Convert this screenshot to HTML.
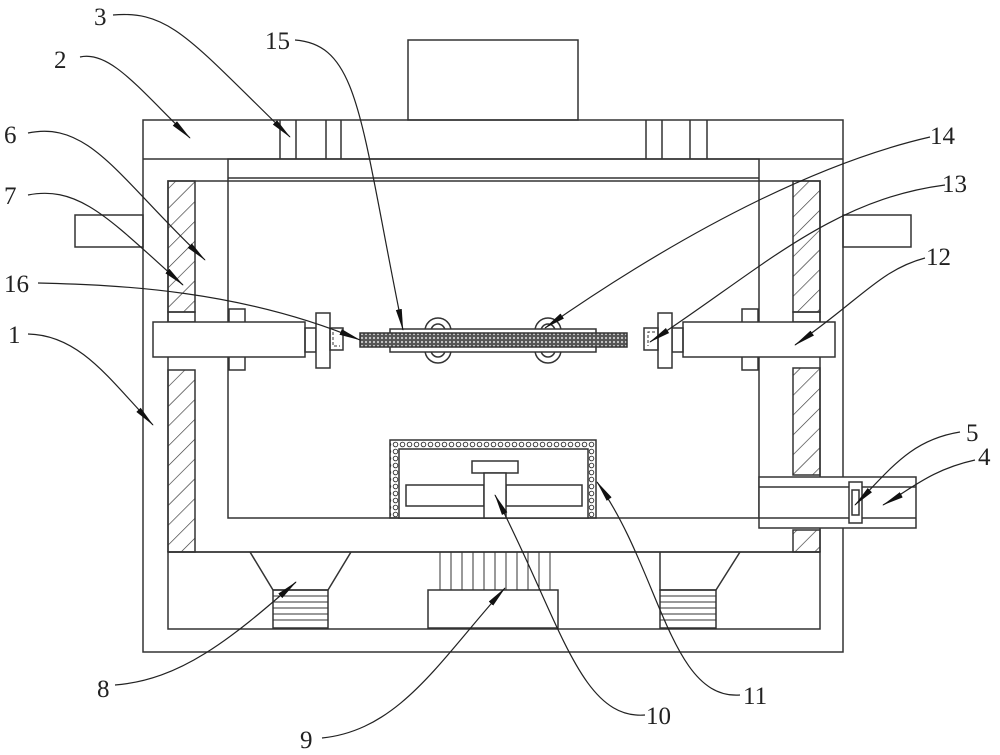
<!DOCTYPE html>
<html><head><meta charset="utf-8"><style>
html,body{margin:0;padding:0;background:#fff}
svg{display:block}
text{font-family:"Liberation Serif",serif;font-size:25px;fill:#222}
</style></head><body>
<svg width="1000" height="755" viewBox="0 0 1000 755" xmlns="http://www.w3.org/2000/svg">
<defs>
<pattern id="h" patternUnits="userSpaceOnUse" width="14" height="14" patternTransform="rotate(45)">
<line x1="0" y1="0" x2="0" y2="14" stroke="#333" stroke-width="1.3"/>
</pattern>
<pattern id="m" patternUnits="userSpaceOnUse" width="4" height="4">
<rect width="4" height="4" fill="#555"/><circle cx="2" cy="2" r="1.1" fill="#ccc"/>
</pattern>
<pattern id="d" patternUnits="userSpaceOnUse" width="7" height="7">
<circle cx="3.5" cy="3.5" r="2.3" fill="none" stroke="#333" stroke-width="0.9"/>
</pattern>
<marker id="a" markerWidth="22" markerHeight="8" refX="21" refY="4" orient="auto" markerUnits="userSpaceOnUse">
<path d="M0,1 L22,4 L0,7 Z" fill="#111"/>
</marker>
</defs>
<g fill="none" stroke="#333" stroke-width="1.5">
<rect x="408" y="40" width="170" height="80"/>
<rect x="143" y="120" width="700" height="532"/>
<line x1="143" y1="159" x2="843" y2="159"/>
<line x1="280" y1="120" x2="280" y2="159"/><line x1="296" y1="120" x2="296" y2="159"/>
<line x1="326" y1="120" x2="326" y2="159"/><line x1="341" y1="120" x2="341" y2="159"/>
<line x1="646" y1="120" x2="646" y2="159"/><line x1="662" y1="120" x2="662" y2="159"/>
<line x1="690" y1="120" x2="690" y2="159"/><line x1="707" y1="120" x2="707" y2="159"/>
<rect x="75" y="215" width="68" height="32"/>
<rect x="843" y="215" width="68" height="32"/>
<rect x="228" y="159" width="531" height="359"/>
<line x1="228" y1="178" x2="759" y2="178"/>
<polyline points="168,552 168,181 820,181 820,552"/>
<line x1="168" y1="552" x2="820" y2="552"/>
<rect x="168" y="181" width="27" height="131" fill="url(#h)"/>
<rect x="168" y="312" width="27" height="10"/>
<rect x="168" y="370" width="27" height="182" fill="url(#h)"/>
<rect x="793" y="181" width="27" height="131" fill="url(#h)"/>
<rect x="793" y="312" width="27" height="10"/>
<rect x="793" y="368" width="27" height="107" fill="url(#h)"/>
<rect x="793" y="530" width="27" height="22" fill="url(#h)"/>
<rect x="168" y="552" width="652" height="77"/>
<polyline points="250,552 273,590 328,590 351,552"/>
<polyline points="660,552 660,590 716,590 740,552"/>
<rect x="273" y="590" width="55" height="38"/>
<rect x="660" y="590" width="56" height="38"/>
<g stroke-width="1">
<line x1="273" y1="596" x2="328" y2="596"/><line x1="273" y1="602" x2="328" y2="602"/><line x1="273" y1="608" x2="328" y2="608"/><line x1="273" y1="614" x2="328" y2="614"/><line x1="273" y1="620" x2="328" y2="620"/>
<line x1="660" y1="596" x2="716" y2="596"/><line x1="660" y1="602" x2="716" y2="602"/><line x1="660" y1="608" x2="716" y2="608"/><line x1="660" y1="614" x2="716" y2="614"/><line x1="660" y1="620" x2="716" y2="620"/>
<line x1="440" y1="552" x2="440" y2="590"/><line x1="451" y1="552" x2="451" y2="590"/><line x1="462" y1="552" x2="462" y2="590"/><line x1="473" y1="552" x2="473" y2="590"/><line x1="484" y1="552" x2="484" y2="590"/><line x1="495" y1="552" x2="495" y2="590"/><line x1="506" y1="552" x2="506" y2="590"/><line x1="517" y1="552" x2="517" y2="590"/><line x1="528" y1="552" x2="528" y2="590"/><line x1="539" y1="552" x2="539" y2="590"/><line x1="550" y1="552" x2="550" y2="590"/>
</g>
<rect x="428" y="590" width="130" height="38"/>
<rect x="390" y="440" width="206" height="78" fill="url(#d)"/>
<rect x="399" y="449" width="189" height="69" fill="#fff"/>
<rect x="472" y="461" width="46" height="12"/>
<rect x="406" y="485" width="78" height="21"/>
<rect x="506" y="485" width="76" height="21"/>
<rect x="484" y="473" width="22" height="45" fill="#fff"/>
<rect x="759" y="477" width="157" height="51" fill="#fff"/>
<line x1="759" y1="487" x2="916" y2="487"/><line x1="759" y1="518" x2="916" y2="518"/>
<rect x="849" y="482" width="13" height="41" fill="#fff"/>
<rect x="852" y="490" width="7" height="25"/>
<rect x="229" y="309" width="16" height="61" fill="#fff"/>
<rect x="153" y="322" width="152" height="35" fill="#fff"/>
<rect x="305" y="328" width="11" height="24"/>
<rect x="316" y="313" width="14" height="55" fill="#fff"/>
<rect x="330" y="328" width="13" height="22"/>
<path d="M333,332 v14 h7" stroke-dasharray="3,2" stroke-width="1"/>
<rect x="742" y="309" width="16" height="61" fill="#fff"/>
<rect x="683" y="322" width="152" height="35" fill="#fff"/>
<rect x="672" y="328" width="11" height="24"/>
<rect x="658" y="313" width="14" height="55" fill="#fff"/>
<rect x="644" y="328" width="14" height="22"/>
<path d="M655,332 h-7 v14" stroke-dasharray="3,2" stroke-width="1"/>
<circle cx="438" cy="331" r="13"/><circle cx="438" cy="331" r="7"/>
<circle cx="548" cy="331" r="13"/><circle cx="548" cy="331" r="7"/>
<circle cx="438" cy="350" r="13"/><circle cx="438" cy="350" r="7"/>
<circle cx="548" cy="350" r="13"/><circle cx="548" cy="350" r="7"/>
<rect x="390" y="329" width="206" height="23" fill="#fff"/>
<rect x="360" y="333" width="267" height="14" fill="url(#m)"/>
</g>
<g fill="none" stroke="#222" stroke-width="1.2" marker-end="url(#a)">
<path d="M113,15 C170,10 190,40 290,137"/>
<path d="M295,40 C360,45 360,120 403,330"/>
<path d="M80,57 C110,50 140,90 190,138"/>
<path d="M28,133 C90,120 120,180 205,260"/>
<path d="M28,195 C80,185 110,220 183,285"/>
<path d="M38,283 C120,285 240,290 360,340"/>
<path d="M28,334 C80,335 110,380 153,425"/>
<path d="M930,137 C830,160 700,220 545,328"/>
<path d="M945,185 C830,200 760,270 650,342"/>
<path d="M925,258 C880,270 860,300 795,345"/>
<path d="M960,432 C910,440 890,470 855,505"/>
<path d="M975,460 C930,470 910,490 883,505"/>
<path d="M115,685 C180,680 230,640 296,582"/>
<path d="M322,738 C400,730 440,660 505,588"/>
<path d="M645,715 C580,720 560,620 495,495"/>
<path d="M740,695 C670,700 660,570 597,482"/>
</g>
<g>
<text x="94" y="25">3</text>
<text x="265" y="49">15</text>
<text x="54" y="68">2</text>
<text x="4" y="143">6</text>
<text x="4" y="204">7</text>
<text x="4" y="292">16</text>
<text x="8" y="343">1</text>
<text x="930" y="144">14</text>
<text x="942" y="192">13</text>
<text x="926" y="265">12</text>
<text x="966" y="441">5</text>
<text x="978" y="465">4</text>
<text x="97" y="697">8</text>
<text x="300" y="748">9</text>
<text x="646" y="724">10</text>
<text x="743" y="704">11</text>
</g>
</svg>
</body></html>
